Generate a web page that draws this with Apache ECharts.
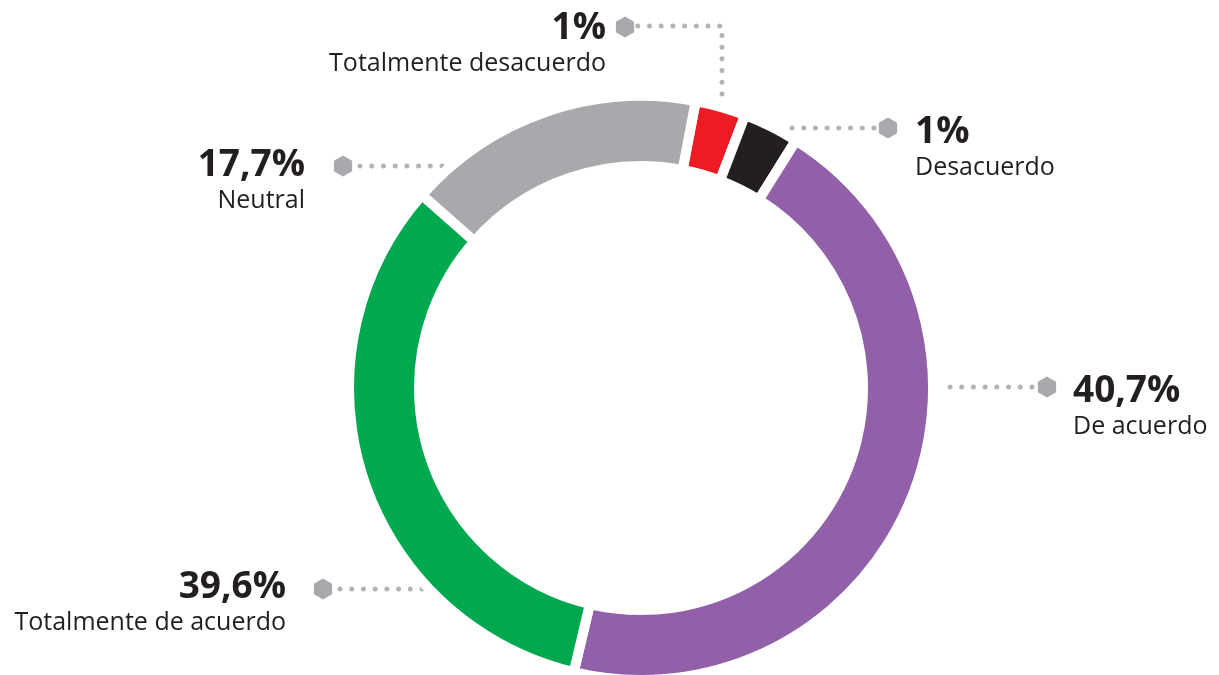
<!DOCTYPE html>
<html>
<head>
<meta charset="utf-8">
<script src="https://cdn.jsdelivr.net/npm/echarts@6/dist/echarts.min.js"></script>
<style>
  html, body { margin: 0; padding: 0; background: #fff; }
  #chart { width: 1219px; height: 675px; }
</style>
</head>
<body>
<div id="chart"></div>
<script>
// categorias (en el orden del anillo, sentido horario desde arriba)
const categories = ['Totalmente desacuerdo', 'Desacuerdo', 'De acuerdo', 'Totalmente de acuerdo', 'Neutral'];
// porcentaje que muestra cada etiqueta
const pctLabels = ['1%', '1%', '40,7%', '39,6%', '17,7%'];
// parte del anillo que ocupa cada segmento en el dibujo (%)
const arcShare = [2.8, 3.1, 44.8, 32.8, 16.5];
const colors = ['#ed1c24', '#231f20', '#9160a9', '#00a84f', '#a7a9ac'];

// posicion de etiquetas y lineas guia (solo maquetacion)
const labelPos = [
  { x: 606, y: 8, align: 'right', line: [[722, 94], [722, 26], [636, 26]], hex: [625, 27] },
  { x: 915, y: 112, align: 'left', line: [[792, 128], [835, 128], [877, 128]], hex: [888, 128] },
  { x: 1073, y: 371, align: 'left', line: [[950, 387], [995, 387], [1036, 387]], hex: [1047, 387] },
  { x: 286, y: 567, align: 'right', line: [[422, 589], [380, 589], [335, 589]], hex: [323, 589] },
  { x: 305, y: 145, align: 'right', line: [[442, 166], [400, 166], [355, 166]], hex: [343, 166] }
];

const chart = echarts.init(document.getElementById('chart'));

// hexagono con punta arriba
const hexagon = (cx, cy, r) => {
  const pts = [];
  for (let i = 0; i < 6; i++) {
    const a = Math.PI / 3 * i - Math.PI / 2;
    pts.push([cx + r * Math.cos(a), cy + r * Math.sin(a)]);
  }
  return pts;
};

const option = {
  animation: false,
  graphic: labelPos.map(p => ({
    type: 'polygon',
    shape: { points: hexagon(p.hex[0], p.hex[1], 10.5) },
    style: { fill: '#a7a9ac' },
    z: 10
  })),
  series: [
    {
      type: 'pie',
      center: [641, 388],
      // el borde blanco de 10px deja el anillo visible entre 227 y 287
      radius: [222, 292],
      startAngle: 79.2,
      clockwise: true,
      avoidLabelOverlap: false,
      emphasis: { scale: false },
      itemStyle: {
        borderColor: '#ffffff',
        borderWidth: 10
      },
      label: {
        show: true,
        position: 'outside',
        formatter: (p) => '{p|' + pctLabels[p.dataIndex] + '}\n{n|' + p.name + '}',
        rich: {
          p: {
            fontFamily: 'Open Sans',
            fontWeight: 'bold',
            fontSize: 37,
            lineHeight: 40,
            color: '#231f20'
          },
          n: {
            fontFamily: 'Open Sans',
            fontSize: 25,
            lineHeight: 32,
            color: '#231f20'
          }
        }
      },
      labelLine: {
        show: true,
        smooth: false,
        lineStyle: {
          color: '#b1b3b6',
          width: 5,
          type: [0.01, 11.7],
          cap: 'round'
        }
      },
      labelLayout: (params) => {
        const p = labelPos[params.dataIndex];
        return {
          x: p.x,
          y: p.y,
          align: p.align,
          verticalAlign: 'top',
          labelLinePoints: p.line
        };
      },
      data: categories.map((name, i) => ({
        name: name,
        value: arcShare[i],
        itemStyle: { color: colors[i] }
      }))
    }
  ]
};

chart.setOption(option);
</script>
</body>
</html>
